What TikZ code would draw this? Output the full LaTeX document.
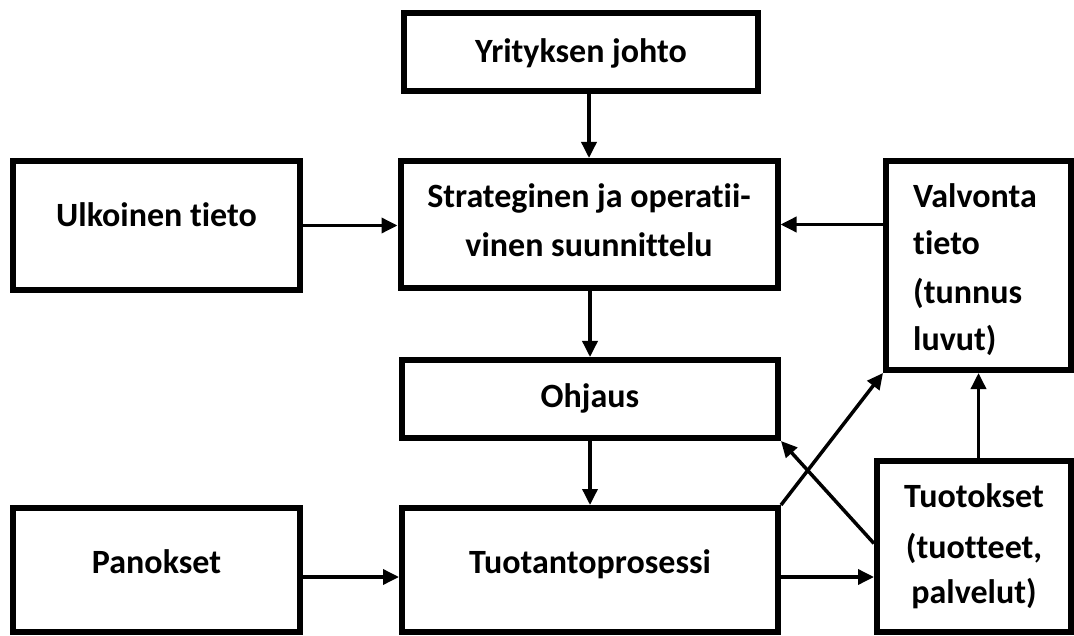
\documentclass[tikz,border=0pt]{standalone}
\usepackage{fontspec}
\setmainfont{Carlito}[Ligatures=NoCommon]
\usetikzlibrary{arrows.meta,calc}
\begin{document}
\begin{tikzpicture}[x=1pt,y=-1pt,
  box/.style={draw, line width=6pt, inner sep=0pt},
  lbl/.style={inner sep=0pt, anchor=base, align=center,
    font=\fontsize{34}{48}\selectfont\bfseries},
  arr/.style={line width=3.5pt, -{Triangle[length=16pt,width=15pt]}}]
\fill[white] (0,0) rectangle (1074,636);
\useasboundingbox (0,0) rectangle (1074,636);

% boxes
\node[box, minimum width=354pt, minimum height=78pt] (yj) at (581,52) {};
\node[box, minimum width=377pt, minimum height=127pt] (st) at (589,224.5) {};
\node[box, minimum width=287pt, minimum height=129pt] (uk) at (156.5,225.5) {};
\node[box, minimum width=185pt, minimum height=209pt] (va) at (978.5,265.5) {};
\node[box, minimum width=376pt, minimum height=78pt] (oh) at (590,399) {};
\node[box, minimum width=376pt, minimum height=124pt] (tp) at (590,570) {};
\node[box, minimum width=287pt, minimum height=124pt] (pa) at (156.5,570) {};
\node[box, minimum width=194pt, minimum height=171pt] (tu) at (974,546.5) {};

% box texts (placed on their baselines)
\node[lbl] (tyj) at (yj |- 0,63) {Yrityksen johto};
\node[lbl] (tst1) at (st |- 0,208) {Strateginen ja operatii-};
\node[lbl] (tst2) at (st |- 0,257) {vinen suunnittelu};
\node[lbl] (tuk) at (uk |- 0,227) {Ulkoinen tieto};
\node[lbl] (toh) at (oh |- 0,407) {Ohjaus};
\node[lbl] (ttp) at (tp |- 0,573) {Tuotantoprosessi};
\node[lbl] (tpa) at (pa |- 0,573) {Panokset};
\node[lbl, anchor=base west] (tva1) at (913,208) {Valvonta};
\node[lbl, anchor=base west] (tva2) at (913,255) {tieto};
\node[lbl, anchor=base west] (tva3) at (913,304) {(tunnus};
\node[lbl, anchor=base west] (tva4) at (913,351) {luvut)};
\node[lbl] (ttu1) at (tu |- 0,507) {Tuotokset};
\node[lbl] (ttu2) at (tu |- 0,558) {(tuotteet,};
\node[lbl] (ttu3) at (tu |- 0,603) {palvelut)};

% connectors
\draw[arr] (yj.south -| st.north) -- (st.north);
\draw[arr] (st.south -| oh.north) -- (oh.north);
\draw[arr] (oh.south) -- (tp.north);
\draw[arr] (uk.east) -- (uk.east -| st.west);
\draw[arr] (st.east -| va.west) -- (st.east);
\draw[arr] ($(pa.east)+(0,7)$) -- ($(tp.west)+(0,7)$);
\draw[arr] ($(tp.east)+(0,7)$) -- ($(tp.east -| tu.west)+(0,7)$);
\draw[arr] (va.south |- tu.north) -- (va.south);
\draw[arr] (tp.north east) -- (va.south west);
\draw[arr] ($(tu.west)+(0,-3)$) -- (oh.south east);
\end{tikzpicture}
\end{document}
